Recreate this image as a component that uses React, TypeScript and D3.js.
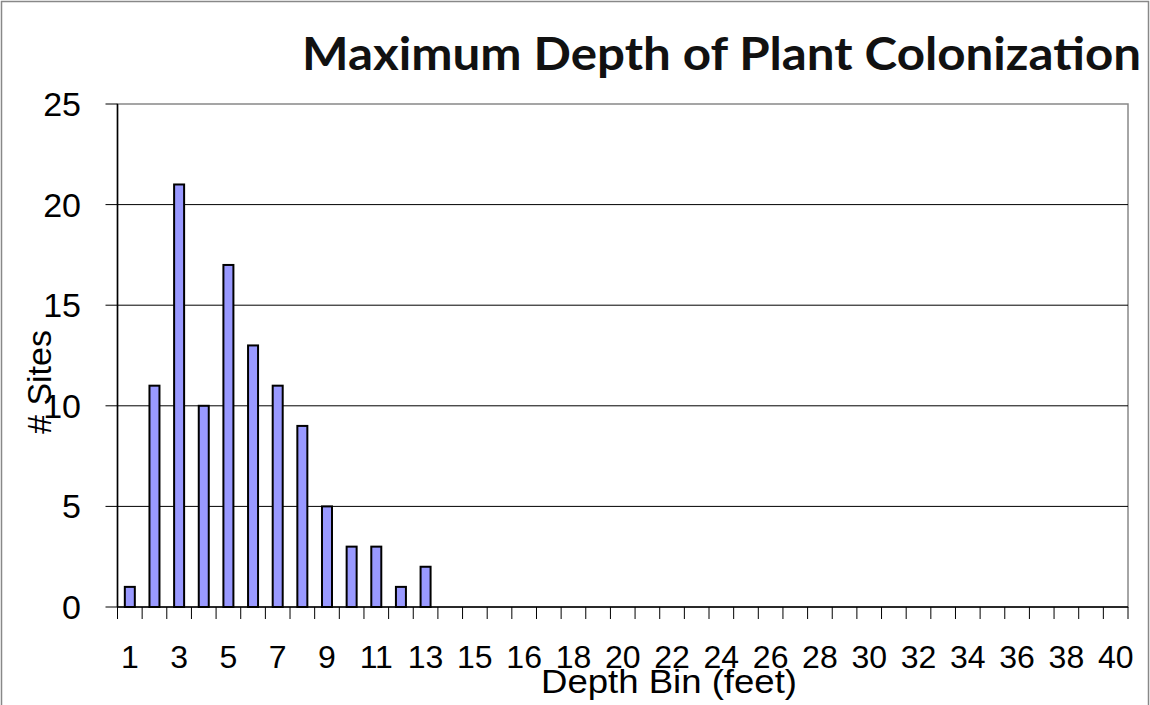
import React from "react";
import * as d3 from "d3";

const categories: string[] = [
  "1","2","3","4","5","6","7","8","9","10","11","12","13","14","15","15.5",
  "16","17","18","19","20","21","22","23","24","25","26","27","28","29","30",
  "31","32","33","34","35","36","37","38","39","40",
];
const siteCounts: number[] = [1, 11, 21, 10, 17, 13, 11, 9, 5, 3, 3, 1, 2];
const yTicks: number[] = [0, 5, 10, 15, 20, 25];
const title = "Maximum Depth of Plant Colonization";
const xTitle = "Depth Bin (feet)";
const yTitle = "# Sites";

export default function App() {
  const W = 1150, H = 705;
  const left = 117.5, right = 1128, top = 104, bottom = 607;
  const x = d3.scaleBand<string>().domain(categories).range([left, right]).paddingInner(0).paddingOuter(0);
  const y = d3.scaleLinear().domain([0, 25]).range([bottom, top]);
  const bw = 10;
  const values = categories.map((c, i) => (i < siteCounts.length ? siteCounts[i] : 0));
  const font = "'Liberation Sans', Arial, sans-serif";
  return (
    <svg width={W} height={H} style={{ position: "absolute", left: 0, top: 0, background: "#fff" }}>
      <rect x={1.5} y={1.5} width={W - 3} height={H + 10} fill="#fff" stroke="#888" strokeWidth={1.5} />
      <text x={302} y={70} textLength={839} lengthAdjust="spacingAndGlyphs" fontFamily="Lato, 'Open Sans', sans-serif" fontWeight={700} fontSize={46} fill="#111">{title}</text>
      {/* plot frame */}
      <rect x={left} y={top} width={right - left} height={bottom - top} fill="none" stroke="#888" strokeWidth={1.5} />
      {yTicks.filter(t => t > 0 && t < 25).map(t => (
        <line key={t} x1={left} x2={right} y1={y(t)} y2={y(t)} stroke="#000" strokeWidth={1} />
      ))}
      {yTicks.map(t => (
        <g key={"yt" + t}>
          <line x1={left - 12} x2={left} y1={y(t)} y2={y(t)} stroke="#000" strokeWidth={1} />
          <text x={81} y={y(t) + 12} textAnchor="end" fontFamily={font} fontSize={34} fill="#000">{t}</text>
        </g>
      ))}
      {values.map((v, i) => v > 0 && (
        <rect key={i} x={(x(categories[i]) as number) + x.bandwidth() / 2 - bw / 2} y={y(v)} width={bw} height={y(0) - y(v)}
          fill="#9999ff" stroke="#000" strokeWidth={2} />
      ))}
      <line x1={left} x2={left} y1={top} y2={bottom} stroke="#000" strokeWidth={1.5} />
      <line x1={left} x2={right} y1={bottom} y2={bottom} stroke="#000" strokeWidth={1.5} />
      {categories.map((c, i) => (
        <line key={"xt" + i} x1={x(c) as number} x2={x(c) as number} y1={bottom} y2={bottom + 12} stroke="#000" strokeWidth={1} />
      ))}
      <line x1={right} x2={right} y1={bottom} y2={bottom + 12} stroke="#000" strokeWidth={1} />
      {categories.map((c, i) => i % 2 === 0 && (
        <text key={"xl" + i} x={(x(c) as number) + x.bandwidth() / 2} y={668} textAnchor="middle" fontFamily={font} fontSize={32} fill="#000">{c}</text>
      ))}
      <text x={669} y={693} textAnchor="middle" textLength={256} lengthAdjust="spacingAndGlyphs" fontFamily={font} fontSize={34} fill="#000">{xTitle}</text>
      <text transform={`translate(51,382) rotate(-90)`} textAnchor="middle" fontFamily={font} fontSize={34} fill="#000">{yTitle}</text>
    </svg>
  );
}
